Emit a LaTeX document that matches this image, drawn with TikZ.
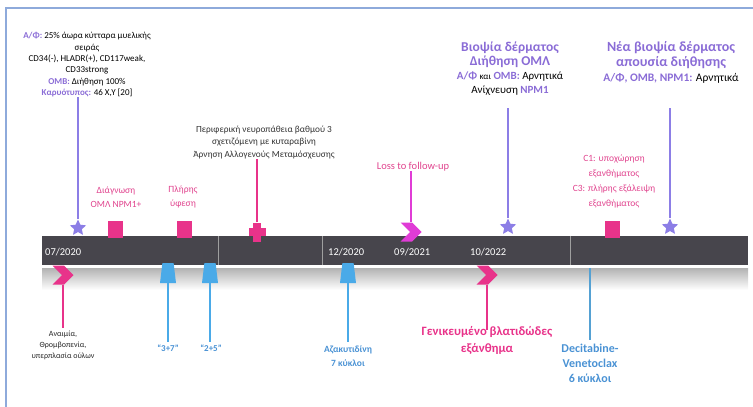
\documentclass[tikz,border=0pt]{standalone}
\usepackage{fontspec}
\setmainfont{Carlito}
\usetikzlibrary{shapes.geometric,shapes.symbols}
\definecolor{framec}{HTML}{8EAADB}
\definecolor{bardark}{HTML}{47454C}
\definecolor{purp}{HTML}{8C7EE6}
\definecolor{purptxt}{HTML}{8A6CD6}
\definecolor{pinkc}{HTML}{E8338A}
\definecolor{pinktxt}{HTML}{E0448E}
\definecolor{magc}{HTML}{E03CD6}
\definecolor{bluec}{HTML}{4AAAE8}
\definecolor{bluetxt}{HTML}{4A92D4}
\tikzset{
 starmk/.style={star, star points=5, star point ratio=2.1, fill=purp, inner sep=0pt, minimum size=17pt},
 sqmk/.style={rectangle, fill=pinkc, inner sep=0pt, minimum width=15pt, minimum height=17pt},
 chevmk/.style={signal, signal to=east, signal from=west, fill=#1, inner sep=1pt, minimum width=13pt, minimum height=19pt},
 trapmk/.style={trapezium, trapezium left angle=78, trapezium right angle=78, trapezium stretches=true, fill=bluec, inner sep=1pt, minimum width=16pt, minimum height=20pt},
 conn/.style={line width=1.3pt, draw=#1},
 txt/.style={align=center, inner sep=0pt},
 dvline/.style={anchor=base, inner sep=0pt, text=bluetxt, font=\fontsize{12}{15}\selectfont\bfseries},
 datelbl/.style={text=white, font=\fontsize{10.5}{12}\selectfont, anchor=west, inner sep=0pt},
}
\newcommand{\pb}[1]{\textcolor{purptxt}{\textbf{#1}}}
\begin{document}
\begin{tikzpicture}[x=1pt,y=-1pt]
\useasboundingbox (0,0) rectangle (753,407);
% frame
\draw[framec, line width=1.5pt] (6,407) -- (6,8) -- (753,8);
% timeline bar
\fill[bardark] (42,236) rectangle (748,265);
\shade[top color=gray!60, bottom color=white] (42,268) rectangle (748,290);
\draw[gray!75, line width=0.5pt] (218,236) -- (218,265);
\draw[gray!75, line width=0.5pt] (322,236) -- (322,265);
\draw[gray!75, line width=0.5pt] (570,236) -- (570,265);
\node[datelbl] (d1) at (45,252) {07/2020};
\node[datelbl] (d2) at (328,252) {12/2020};
\node[datelbl] (d3) at (394,252) {09/2021};
\node[datelbl] (d4) at (470,252) {10/2022};

% ---------- texts above ----------
\node[txt, anchor=south, font=\fontsize{9}{11.3}\selectfont] (tA) at (87,97)
 {\pb{Α/Φ:} 25\% άωρα κύτταρα μυελικής\\σειράς\\CD34(-), HLADR(+), CD117weak,\\CD33strong\\\pb{ΟΜΒ:} Διήθηση 100\%\\\pb{Καρυότυπος:} 46 Χ,Υ [20]};
\node[txt, anchor=south, text=pinktxt, font=\fontsize{9.5}{14}\selectfont] (tD) at (116,208) {Διάγνωση\\ΟΜΛ NPM1+};
\node[txt, anchor=south, text=pinktxt, font=\fontsize{9.5}{14}\selectfont] (tP) at (183,208) {Πλήρης\\ύφεση};
\node[txt, anchor=south, text=black!80, font=\fontsize{9.3}{12.5}\selectfont] (tN) at (264,159)
 {Περιφερική νευροπάθεια βαθμού 3\\σχετιζόμενη με κυταραβίνη\\Άρνηση Αλλογενούς Μεταμόσχευσης};
\node[txt, anchor=south, text=pinktxt, font=\fontsize{10.5}{12}\selectfont] (tL) at (413,171) {Loss to follow-up};
\node[txt, anchor=south, font=\fontsize{11}{14}\selectfont] (tB) at (510,96)
 {{\fontsize{13.5}{14}\selectfont\pb{Βιοψία δέρματος}}\\{\fontsize{13.5}{14}\selectfont\pb{Διήθηση ΟΜΛ}}\\\pb{Α/Φ} {\small και} \pb{ΟΜΒ:} Αρνητικά\\Ανίχνευση \pb{NPM1}};
\node[txt, anchor=south, text=pinktxt, font=\fontsize{9.5}{15}\selectfont] (tC) at (614,208)
 {C1: υποχώρηση\\εξανθήματος\\C3: πλήρης εξάλειψη\\εξανθήματος};
\node[txt, anchor=south, font=\fontsize{11.5}{15}\selectfont] (tV) at (671,84)
 {{\fontsize{14}{15}\selectfont\pb{Νέα βιοψία δέρματος}}\\{\fontsize{14}{15}\selectfont\pb{απουσία διήθησης}}\\\pb{Α/Φ, ΟΜΒ, NPM1:} Αρνητικά};

% ---------- texts below ----------
\node[txt, anchor=north, text=black!85, font=\fontsize{8}{11}\selectfont] (tAn) at (63,331) {Αναιμία,\\Θρομβοπενία,\\υπερπλασία ούλων};
\node[txt, anchor=north, text=bluetxt, font=\fontsize{9}{11}\selectfont\bfseries] (t37) at (168,345) {“3+7”};
\node[txt, anchor=north, text=bluetxt, font=\fontsize{9}{11}\selectfont\bfseries] (t25) at (211,345) {“2+5”};
\node[txt, anchor=north, text=bluetxt, font=\fontsize{9.5}{14}\selectfont\bfseries] (tAz) at (348,346) {Αζακυτιδίνη\\7 κύκλοι};
\node[txt, anchor=north, text=pinkc, font=\fontsize{12.7}{17}\selectfont\bfseries] (tG) at (487,326) {Γενικευμένο βλατιδώδες\\εξάνθημα};
\node[dvline] (tDV1) at (590,352) {Decitabine-};
\node[dvline] (tDV2) at (590,367) {Venetoclax};
\node[dvline] (tDV3) at (590,382) {6 κύκλοι};

% ---------- markers above ----------
\node[starmk] (s1) at (78,228) {};
\node[sqmk] (q1) at (115,229.5) {};
\node[sqmk] (q2) at (184,229.5) {};
\node[fill=pinkc, inner sep=0pt, minimum width=17pt, minimum height=8pt] (crh) at (257,232) {};
\node[fill=pinkc, inner sep=0pt, minimum width=8pt, minimum height=19pt] (crv) at (257,232) {};
\node[chevmk=magc] (ch1) at (411,232) {};
\node[starmk] (s2) at (508,227) {};
\node[sqmk] (q3) at (612,229.5) {};
\node[starmk] (s3) at (670,227) {};

% ---------- markers below ----------
\node[chevmk=pinkc] (ch0) at (63,275) {};
\node[trapmk] (tr1) at (168,273) {};
\node[trapmk] (tr2) at (210,273) {};
\node[trapmk] (tr3) at (348,273) {};
\node[chevmk=pinkc] (ch2) at (487,275) {};
\coordinate (dec) at (590,268);

% ---------- connectors ----------
\draw[conn=purp] (s1.north) -- (s1.north |- tA.south);
\draw[conn=pinkc] (crv.north) -- (crv.north |- tN.south);
\draw[conn=magc] (ch1.north) -- (ch1.north |- tL.south);
\draw[conn=purp, shorten >=12pt] (s2.north) -- (s2.north |- tB.south);
\draw[conn=purp, shorten >=24pt] (s3.north) -- (s3.north |- tV.south);
\draw[conn=pinkc, shorten >=3pt] (ch0.south) -- (ch0.south |- tAn.north);
\draw[conn=bluec, shorten >=3pt] (tr1.south) -- (tr1.south |- t37.north);
\draw[conn=bluec, shorten >=3pt] (tr2.south) -- (tr2.south |- t25.north);
\draw[conn=bluec, shorten >=4pt] (tr3.south) -- (tr3.south |- tAz.north);
\draw[conn=pinkc, shorten >=-4pt] (ch2.south) -- (ch2.south |- tG.north);
\draw[conn=bluec!80!gray, shorten >=3pt] (dec) -- (dec |- tDV1.north);
\end{tikzpicture}
\end{document}
